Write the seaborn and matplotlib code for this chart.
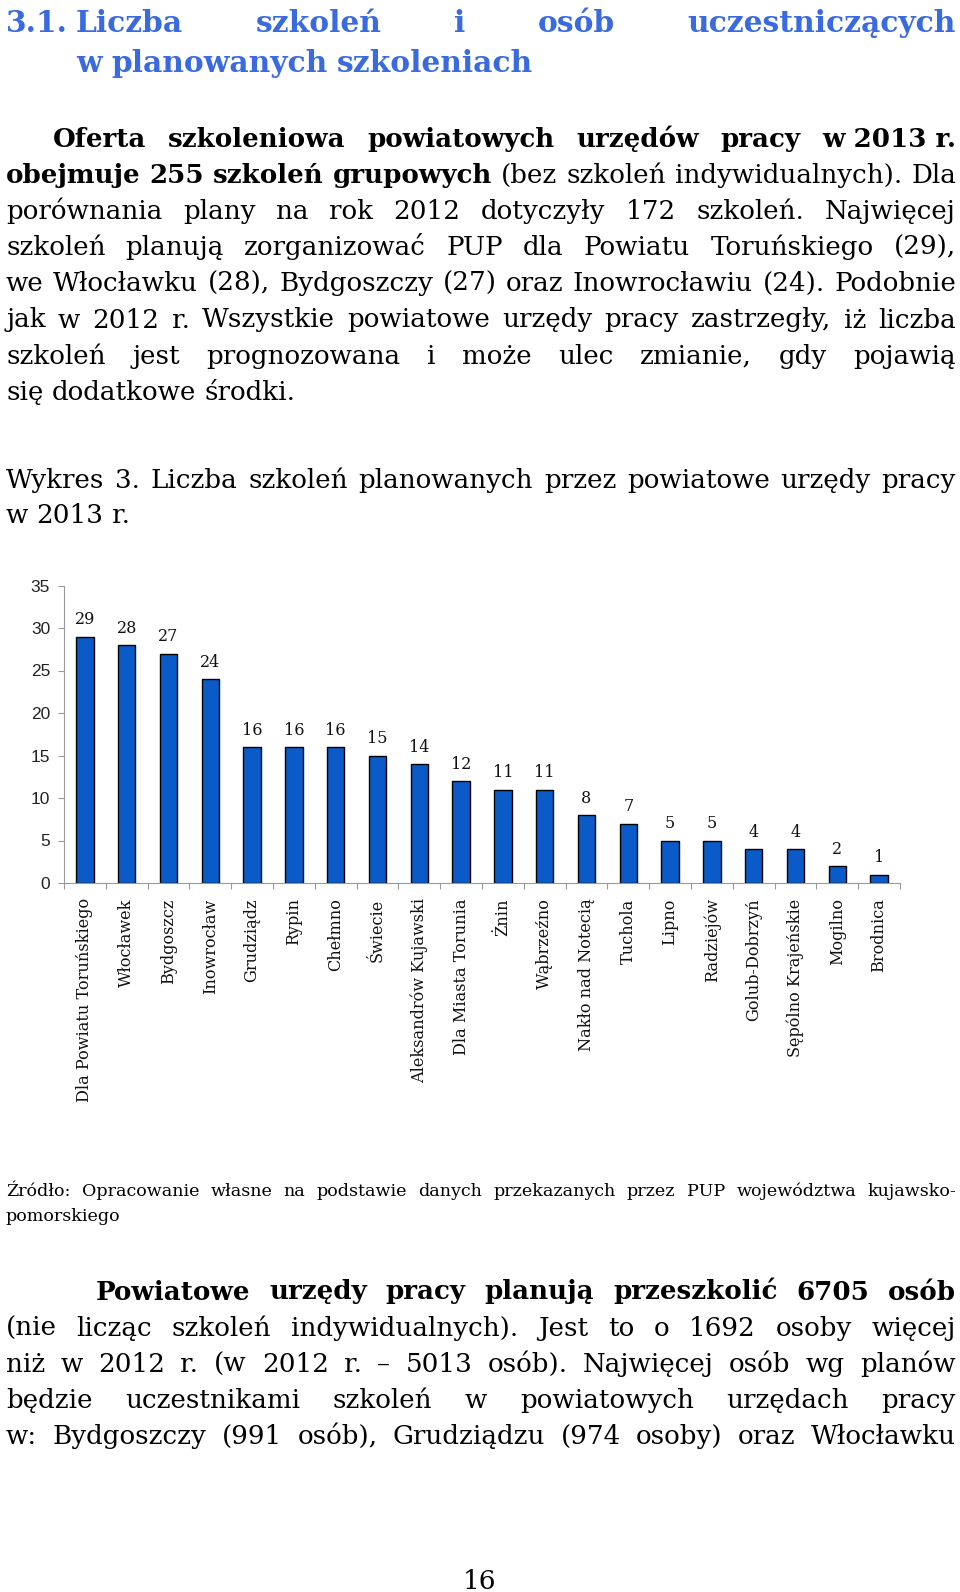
import matplotlib
matplotlib.use("Agg")
import matplotlib.pyplot as plt
import seaborn as sns
import numpy as np

# ---------------- data ----------------
categories = ["Dla Powiatu Toruńskiego", "Włocławek", "Bydgoszcz", "Inowrocław",
              "Grudziądz", "Rypin", "Chełmno", "Świecie", "Aleksandrów Kujawski",
              "Dla Miasta Torunia", "Żnin", "Wąbrzeźno", "Nakło nad Notecią",
              "Tuchola", "Lipno", "Radziejów", "Golub-Dobrzyń",
              "Sępólno Krajeńskie", "Mogilno", "Brodnica"]
values = [29, 28, 27, 24, 16, 16, 16, 15, 14, 12, 11, 11, 8, 7, 5, 5, 4, 4, 2, 1]
y_ticks = [0, 5, 10, 15, 20, 25, 30, 35]

heading_num = "3.1."
heading_line1 = "Liczba szkoleń i osób uczestniczących"
heading_line2 = "w planowanych szkoleniach"

para1 = [
    [("Oferta szkoleniowa powiatowych urzędów pracy w\u00a02013\u00a0r.", "bold")],
    [("obejmuje 255 szkoleń grupowych", "bold"), ("(bez szkoleń indywidualnych). Dla", "normal")],
    [("porównania plany na rok 2012 dotyczyły 172 szkoleń. Najwięcej", "normal")],
    [("szkoleń planują zorganizować PUP dla Powiatu Toruńskiego (29),", "normal")],
    [("we Włocławku (28), Bydgoszczy (27) oraz Inowrocławiu (24). Podobnie", "normal")],
    [("jak w 2012 r. Wszystkie powiatowe urzędy pracy zastrzegły, iż liczba", "normal")],
    [("szkoleń jest prognozowana i może ulec zmianie, gdy pojawią", "normal")],
    [("się dodatkowe środki.", "normal")],
]
chart_title = ["Wykres 3. Liczba szkoleń planowanych przez powiatowe urzędy pracy",
               "w 2013 r."]
source_lines = ["Źródło: Opracowanie własne na podstawie danych przekazanych przez PUP województwa kujawsko-",
                "pomorskiego"]
para2 = [
    [("Powiatowe urzędy pracy planują przeszkolić 6705 osób", "bold")],
    [("(nie licząc szkoleń indywidualnych). Jest to o 1692 osoby więcej", "normal")],
    [("niż w 2012 r. (w 2012 r. – 5013 osób). Najwięcej osób wg planów", "normal")],
    [("będzie uczestnikami szkoleń w powiatowych urzędach pracy", "normal")],
    [("w: Bydgoszczy (991 osób), Grudziądzu (974 osoby) oraz Włocławku", "normal")],
]
page_number = "16"

# ---------------- style ----------------
sns.set_style("white")
SERIF = ["DejaVu Serif", "Liberation Serif"]
plt.rcParams["font.family"] = SERIF

W, H = 960, 1592
fig = plt.figure(figsize=(W / 100, H / 100), dpi=100)
fig.patch.set_facecolor("white")
renderer = fig.canvas.get_renderer()

BLUE_HEAD = "#3A6AE0"
BAR_BLUE = "#0A5AC8"


def measure(s, size, weight="normal"):
    t = fig.text(0, 0, s, fontsize=size, fontweight=weight, family=SERIF)
    w = t.get_window_extent(renderer).width
    t.remove()
    return w


def seg_width(segments, size):
    # natural width of a line made of (text, weight) segments
    total = 0.0
    sp = measure("a a", size) - measure("aa", size)
    words = [(wd, wt) for text, wt in segments for wd in text.split(" ") if wd]
    for wd, wt in words:
        total += measure(wd, size, wt)
    return total + sp * (len(words) - 1)


def fit_size(s, target, weight="normal"):
    return 10.0 * target / measure(s, 10.0, weight)


def put(x, y, s, size, weight="normal", color="black", ha="left"):
    fig.text(x / W, 1 - y / H, s, fontsize=size, fontweight=weight,
             family=SERIF, color=color, ha=ha, va="baseline")


def draw_line(segments, x0, x1, y, size, color="black", justify=True):
    words = []
    for text, weight in segments:
        for wd in text.split(" "):
            if wd:
                words.append((wd, weight))
    widths = [measure(wd, size, wt) for wd, wt in words]
    nat_gap = measure("a a", size) - measure("aa", size)
    if justify and len(words) > 1:
        gap = (x1 - x0 - sum(widths)) / (len(words) - 1)
    else:
        gap = nat_gap
    x = x0
    for (wd, wt), w in zip(words, widths):
        put(x, y, wd, size, wt, color)
        x += w + gap


LEFT, RIGHT = 6, 956

# body font size: as large as the reference glyphs, but every justified line must fit
BS = fit_size("się dodatkowe środki.", 290)
for lines, starts in ((para1[:-1], [53] + [LEFT] * 6), (para2, [96] + [LEFT] * 4)):
    for segs, x0 in zip(lines, starts):
        nat = seg_width(segs, BS)
        avail = RIGHT - x0 - 4
        if nat > avail:
            BS *= avail / nat

# heading
HS = fit_size(heading_line2, 460, "bold")
put(LEFT, 32, heading_num, HS, "bold", BLUE_HEAD)
draw_line([(heading_line1, "bold")], 76, RIGHT, 32, HS, BLUE_HEAD)
draw_line([(heading_line2, "bold")], 76, RIGHT, 72, HS, BLUE_HEAD, justify=False)

# first paragraph
base = 147
for i, segs in enumerate(para1):
    x0 = 53 if i == 0 else LEFT
    draw_line(segs, x0, RIGHT, base + i * 36.1, BS, justify=(i < len(para1) - 1))

# chart title
draw_line([(chart_title[0], "normal")], LEFT, RIGHT, 488, BS)
draw_line([(chart_title[1], "normal")], LEFT, RIGHT, 523, BS, justify=False)

# ---------------- chart ----------------
ax_left, ax_right = 64, 900
y_bottom, y_top = 883, 585.5
ax = fig.add_axes([ax_left / W, 1 - y_bottom / H,
                   (ax_right - ax_left) / W, (y_bottom - y_top) / H])
sns.barplot(x=categories, y=values, color=BAR_BLUE, saturation=1,
            edgecolor="black", linewidth=1.0, width=0.42, ax=ax)
ax.set_xlim(-0.5, len(categories) - 0.5)
ax.set_ylim(0, 35)
ax.set_yticks(y_ticks)
ax.set_yticklabels([str(v) for v in y_ticks], family=["Liberation Sans", "DejaVu Sans"],
                   fontsize=12.5, color="#222222")
CS = fit_size(categories[0], 205)
ax.set_xticks(range(len(categories)))
ax.set_xticklabels(categories, rotation=90, family=SERIF, fontsize=CS,
                   color="#111111", va="top", ha="center")
ax.set_xticks(np.arange(-0.5, len(categories), 1.0), minor=True)
ax.tick_params(axis="x", which="major", length=0, pad=11)
ax.tick_params(axis="x", which="minor", length=4, width=0.8, color="#999999",
               direction="out", bottom=True)
ax.tick_params(axis="y", length=4, width=0.8, color="#999999", pad=6, left=True)
for side in ["top", "right"]:
    ax.spines[side].set_visible(False)
for side in ["left", "bottom"]:
    ax.spines[side].set_color("#999999")
    ax.spines[side].set_linewidth(0.8)
ax.set_xlabel("")
ax.set_ylabel("")
ax.grid(False)
ax.set_facecolor("none")
ax.bar_label(ax.containers[0], fmt="%d", padding=6, fontsize=11.5,
             family=SERIF, color="#111111")

# ---------------- source + second paragraph ----------------
SS = fit_size(source_lines[1], 115)
draw_line([(source_lines[0], "normal")], LEFT, RIGHT, 1196, SS)
draw_line([(source_lines[1], "normal")], LEFT, RIGHT, 1221, SS, justify=False)

base2 = 1299.5
for i, segs in enumerate(para2):
    x0 = 96 if i == 0 else LEFT
    draw_line(segs, x0, RIGHT, base2 + i * 36.2, BS)

put(480, 1589, page_number, 19, ha="center")

fig.savefig("out.png", dpi=100, facecolor="white")
